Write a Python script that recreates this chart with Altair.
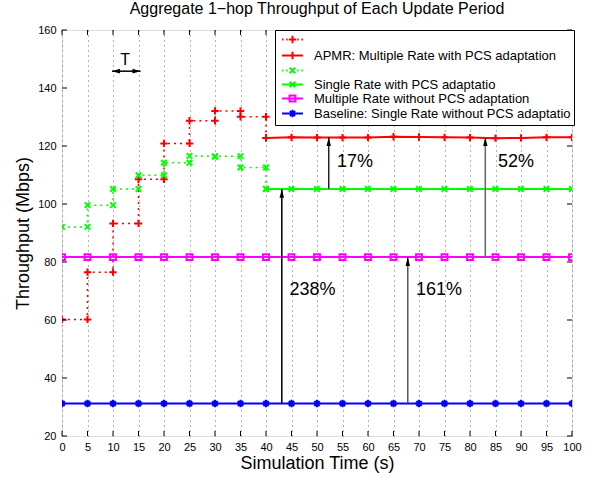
import altair as alt
import pandas as pd

# ---------------- data ----------------
step_t = [0, 5, 5, 10, 10, 15, 15, 20, 20, 25, 25, 30, 30, 35, 35, 40, 40]
apmr_step = [60.2, 60.2, 76.5, 76.5, 93.3, 93.3, 108.5, 108.5, 120.9, 120.9,
             128.7, 128.7, 132.1, 132.1, 130.1, 130.1, 122.8]
single_step = [92.1, 92.1, 99.6, 99.6, 105.2, 105.2, 109.9, 109.9, 114.2, 114.2,
               116.6, 116.4, 116.4, 116.5, 112.6, 112.6, 105.2]

late_t = [40, 45, 50, 55, 60, 65, 70, 75, 80, 85, 90, 95, 100]
apmr_late = [122.8, 123.0, 122.9, 122.9, 122.9, 123.2, 123.1, 123.0, 122.9,
             122.7, 122.8, 123.0, 123.0]
single_late = [105.2, 105.2, 105.2, 105.2, 105.2, 105.2, 105.2, 105.2, 105.2,
               105.2, 105.2, 105.2, 105.2]

full_t = [0, 5, 10, 15, 20, 25, 30, 35, 40, 45, 50, 55, 60, 65, 70, 75, 80,
          85, 90, 95, 100]
multi_full = [81.7, 81.7, 81.7, 81.7, 81.7, 81.7, 81.7, 81.7, 81.7, 81.7, 81.7,
              81.7, 81.7, 81.7, 81.7, 81.7, 81.7, 81.7, 81.7, 81.7, 81.7]
base_full = [31.2, 31.2, 31.2, 31.2, 31.2, 31.2, 31.2, 31.2, 31.2, 31.2, 31.2,
             31.2, 31.2, 31.2, 31.2, 31.2, 31.2, 31.2, 31.2, 31.2, 31.2]

series_names = ["~apmr", "APMR: Multiple Rate with PCS adaptation",
                "~single", "Single Rate with PCS adaptatio",
                "Multiple Rate without PCS adaptation",
                "Baseline: Single Rate without PCS adaptatio"]
series_colors = ["#ff0000", "#ff0000", "#00ff00", "#00ff00", "#ff00ff", "#0000ff"]

# percentage arrows
arr_x = [52.3, 83.0, 43.1, 67.8]
arr_from = [105.2, 81.7, 31.2, 31.2]
arr_to = [123.0, 123.0, 105.2, 81.7]
arr_color = ["#222222", "#666666", "#000000", "#555555"]
ann_x = [53.9, 85.5, 44.6, 69.4]
ann_y = [114.5, 114.5, 70.3, 70.3]
ann_text = ["17%", "52%", "238%", "161%"]

# period "T" annotation
period_text = "T"
period_text_x = [12.4]
period_text_y = [149.8]
period_x1 = [9.8]
period_x2 = [15.4]
period_y = [145.8]

x_ticks = [0, 5, 10, 15, 20, 25, 30, 35, 40, 45, 50, 55, 60, 65, 70, 75, 80,
           85, 90, 95, 100]
y_ticks = [20, 40, 60, 80, 100, 120, 140, 160]

# ---------------- tables ----------------
def rows(name, ts, vs):
    return [{"series": name, "t": t, "v": v, "idx": i} for i, (t, v) in enumerate(zip(ts, vs))]

dotted_df = pd.DataFrame(rows(series_names[0], step_t, apmr_step)
                         + rows(series_names[2], step_t, single_step))
solid_df = pd.DataFrame(rows(series_names[1], late_t, apmr_late)
                        + rows(series_names[3], late_t, single_late)
                        + rows(series_names[4], full_t, multi_full)
                        + rows(series_names[5], full_t, base_full))
all_df = pd.concat([dotted_df, solid_df], ignore_index=True)
legend_df = pd.DataFrame({"series": series_names, "t": [50] * 6, "v": [0] * 6})
arrows_df = pd.DataFrame({"x": arr_x, "y1": arr_from, "y2": arr_to, "c": arr_color})
ann_df = pd.DataFrame({"x": ann_x, "y": ann_y, "text": ann_text})
tick_x_df = pd.DataFrame({"t": x_ticks})
tick_y_df = pd.DataFrame({"v": y_ticks})
period_df = pd.DataFrame({"x1": period_x1, "x2": period_x2, "y": period_y,
                          "tx": period_text_x, "ty": period_text_y, "text": [period_text]})

W, H = 510, 406
FONT = "Liberation Sans"

marker_paths = [
    "M-1,0H1M0,-1V1",
    "M-1,0H1M0,-1V1",
    "M-0.75,-0.75L0.75,0.75M-0.75,0.75L0.75,-0.75",
    "M-0.75,-0.75L0.75,0.75M-0.75,0.75L0.75,-0.75",
    "M-0.8,-0.8H0.8V0.8H-0.8Z",
    "M-1,0H1M0,-1V1M-0.7,-0.7L0.7,0.7M-0.7,0.7L0.7,-0.7",
]
dots = "M-2.85,0H-2.45M-1.7,0H-1.3M1.3,0H1.7M2.45,0H2.85"
legend_paths = [
    dots + "M-1,0H1M0,-1V1",
    "M-2.85,0H2.85M0,-1V1",
    dots + "M-0.75,-0.75L0.75,0.75M-0.75,0.75L0.75,-0.75",
    "M-2.85,0H2.85M-0.75,-0.75L0.75,0.75M-0.75,0.75L0.75,-0.75",
    "M-2.85,0H2.85M-0.8,-0.8H0.8V0.8H-0.8Z",
    "M-2.85,0H2.85M0,-1V1M-0.7,-0.7L0.7,0.7M-0.7,0.7L0.7,-0.7",
]

xs = alt.Scale(domain=[0, 100], nice=False, zero=False)
ys = alt.Scale(domain=[20, 160], nice=False, zero=False)
cscale = alt.Scale(domain=series_names, range=series_colors)

x_axis = alt.Axis(values=x_ticks, title="Simulation Time (s)", grid=True,
                  gridDash=[1, 4], gridColor="#666666", gridWidth=1, tickSize=0,
                  domain=False, labelPadding=5, labelFontSize=11,
                  titleFontSize=18, titleFontWeight="normal", titlePadding=2,
                  labelFlush=False)
y_axis = alt.Axis(values=y_ticks, title="Throughput (Mbps)", grid=False,
                  tickSize=0, domain=False, labelPadding=6, labelFontSize=11,
                  titleFontSize=18, titleFontWeight="normal", titlePadding=5)

X = lambda f="t": alt.X(f"{f}:Q", scale=xs, axis=x_axis)
Y = lambda f="v": alt.Y(f"{f}:Q", scale=ys, axis=y_axis)

dotted = alt.Chart(dotted_df).mark_line(strokeWidth=1.5, strokeDash=[2, 4], clip=True).encode(
    x=X(), y=Y(),
    color=alt.Color("series:N", scale=cscale, legend=None),
    order="idx:Q",
)
solid = alt.Chart(solid_df).mark_line(strokeWidth=2, clip=True).encode(
    x=X(), y=Y(),
    color=alt.Color("series:N", scale=cscale, legend=None),
    order="idx:Q",
)
points = alt.Chart(all_df).mark_point(filled=False, strokeWidth=2, size=54, opacity=1, clip=True).encode(
    x=X(), y=Y(),
    color=alt.Color("series:N", scale=cscale, legend=None),
    shape=alt.Shape("series:N", scale=alt.Scale(domain=series_names, range=marker_paths), legend=None),
)

leg = alt.Legend(orient="none", legendX=213, legendY=0, direction="vertical",
                 title=None, fillColor="white", strokeColor="black", padding=3,
                 labelFont=FONT, labelFontSize=13, labelColor="black", labelLimit=500,
                 rowPadding=-1, symbolSize=54, symbolStrokeWidth=2, labelOffset=15,
                 symbolOffset=8,
                 labelExpr="substring(datum.label,0,1)=='~' ? '' : datum.label")
legend_layer = alt.Chart(legend_df).mark_point(filled=False, strokeWidth=2, size=54, opacity=1, clip=True).encode(
    x=X(), y=Y(),
    color=alt.Color("series:N", scale=cscale, legend=leg),
    shape=alt.Shape("series:N", scale=alt.Scale(domain=series_names, range=legend_paths), legend=leg),
)

arrow_lines = alt.Chart(arrows_df).mark_rule(strokeWidth=1.5).encode(
    x=X("x"), y=Y("y1"), y2="y2:Q", color=alt.Color("c:N", scale=None),
)
arrow_heads = alt.Chart(arrows_df).mark_point(
    shape="M0,0L-0.6,2.4L0.6,2.4Z", filled=True, size=54, color="black", opacity=1
).encode(x=X("x"), y=Y("y2"))
ann = alt.Chart(ann_df).mark_text(align="left", baseline="middle", fontSize=18, font=FONT, color="black").encode(
    x=X("x"), y=Y("y"), text="text:N")

period_line = alt.Chart(period_df).mark_rule(strokeWidth=1.5, color="black").encode(
    x=X("x1"), x2="x2:Q", y=Y("y"))
period_left = alt.Chart(period_df).mark_point(
    shape="M0,0L2.2,-0.65L2.2,0.65Z", filled=True, size=54, color="black", opacity=1
).encode(x=X("x1"), y=Y("y"))
period_right = alt.Chart(period_df).mark_point(
    shape="M0,0L-2.2,-0.65L-2.2,0.65Z", filled=True, size=54, color="black", opacity=1
).encode(x=X("x2"), y=Y("y"))
period_label = alt.Chart(period_df).mark_text(align="center", baseline="middle", fontSize=16, font=FONT, color="black").encode(
    x=X("tx"), y=Y("ty"), text="text:N")

tick_bottom = alt.Chart(tick_x_df).mark_rule(strokeWidth=1, color="black").encode(
    x=X("t"), y=alt.value(H), y2=alt.value(H - 5))
tick_top = alt.Chart(tick_x_df).mark_rule(strokeWidth=1, color="black").encode(
    x=X("t"), y=alt.value(0), y2=alt.value(5))
tick_left = alt.Chart(tick_y_df).mark_rule(strokeWidth=1, color="black").encode(
    y=Y("v"), x=alt.value(0), x2=alt.value(5))
tick_right = alt.Chart(tick_y_df).mark_rule(strokeWidth=1, color="black").encode(
    y=Y("v"), x=alt.value(W), x2=alt.value(W - 5))

chart = alt.layer(
    dotted, solid, points, tick_bottom, tick_top, tick_left, tick_right,
    arrow_lines, arrow_heads, ann, period_line, period_left, period_right,
    period_label, legend_layer,
).resolve_scale(
    color="independent", shape="independent"
).properties(
    width=W, height=H,
    title=alt.Title("Aggregate 1\u2212hop Throughput of Each Update Period",
                    fontSize=16, font=FONT, fontWeight="normal", color="black",
                    offset=7, anchor="middle"),
    autosize=alt.AutoSizeParams(type="none"),
    padding={"left": 62, "top": 30, "right": 27, "bottom": 42},
).configure_view(
    stroke="black", strokeWidth=1.5
).configure_axis(
    labelFont=FONT, titleFont=FONT, labelColor="black", titleColor="black"
).configure(background="white")

chart.save("out.html", embed_options={"renderer": "svg", "actions": False})
